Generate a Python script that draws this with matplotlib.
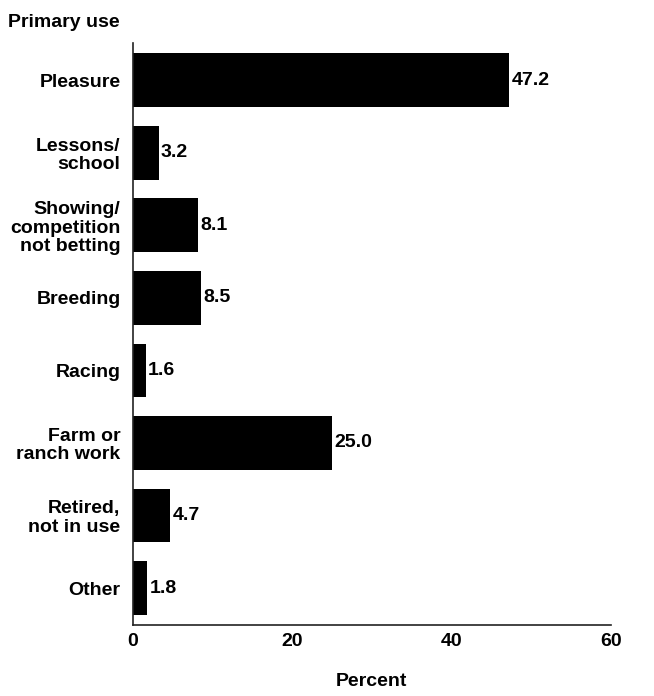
import numpy as np
import matplotlib
matplotlib.use("Agg")
import matplotlib.pyplot as plt

# data
categories = ["Pleasure", "Lessons/\nschool", "Showing/\ncompetition\nnot betting",
              "Breeding", "Racing", "Farm or\nranch work", "Retired,\nnot in use", "Other"]
percent = [47.2, 3.2, 8.1, 8.5, 1.6, 25.0, 4.7, 1.8]
xticks = [0, 20, 40, 60]

plt.rcParams['font.family'] = ['Liberation Sans', 'DejaVu Sans']
fs = 14

fig = plt.figure(figsize=(6.54, 6.96), dpi=100)
ax = fig.add_axes([0.2034, 0.102, 0.7306, 0.836])

y = np.arange(len(categories))
ax.barh(y, percent, height=0.74, color="black")
for yi, v in zip(y, percent):
    ax.text(v + 0.3, yi, f"{v:.1f}", va="center", ha="left", fontsize=fs, fontweight="bold")

ax.set_xlim(0, 60)
ax.set_ylim(len(categories) - 0.49, -0.51)
ax.set_yticks(y)
ax.set_yticklabels(categories, fontsize=fs, linespacing=1.12, fontweight="bold")
ax.set_xticks(xticks)
ax.set_xticklabels([str(t) for t in xticks], fontsize=fs, fontweight="bold")
ax.tick_params(axis="y", length=0, pad=9)
ax.tick_params(axis="x", length=0, pad=6)

for s in ["top", "right"]:
    ax.spines[s].set_visible(False)
for s in ["left", "bottom"]:
    ax.spines[s].set_linewidth(1.2)
    ax.spines[s].set_color("#222222")

ax.set_xlabel("Percent", fontsize=fs, fontweight="bold", labelpad=16)
fig.text(0.012, 0.968, "Primary use", fontsize=fs, fontweight="bold", ha="left", va="center")

fig.savefig("out.png", dpi=100)
